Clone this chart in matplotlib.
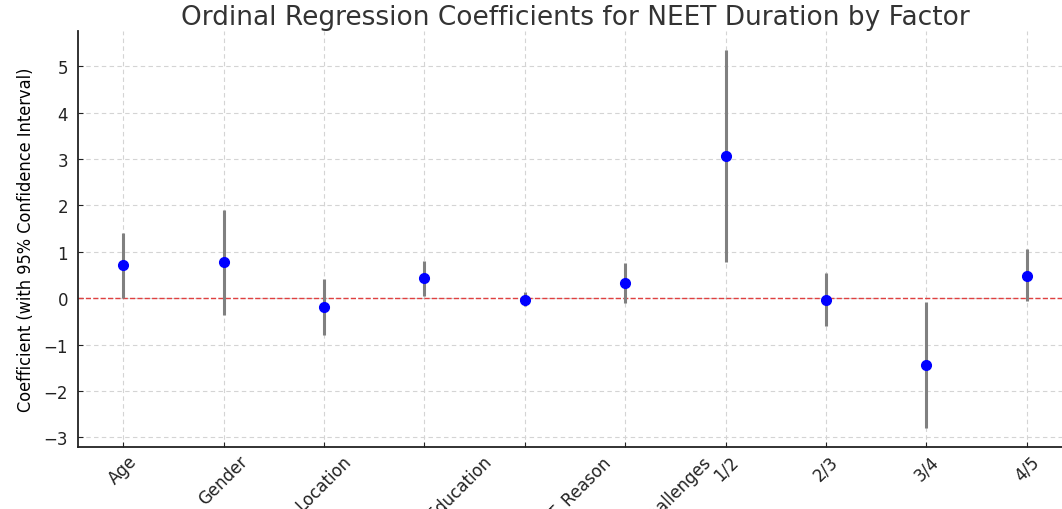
import matplotlib
matplotlib.use("Agg")
import matplotlib.pyplot as plt
import numpy as np

# values
factors = ["Age", "Gender", "Location", "Completed_Education", "Self_Reported_NEET_Reason",
           "Personal_Health_Challenges", "1/2", "2/3", "3/4", "4/5"]
coef = [0.71, 0.77, -0.19, 0.43, -0.03, 0.32, 3.07, -0.04, -1.45, 0.48]
ci_low = [0.01, -0.36, -0.79, 0.05, -0.16, -0.11, 0.77, -0.61, -2.80, -0.06]
ci_high = [1.41, 1.90, 0.41, 0.81, 0.13, 0.75, 5.35, 0.54, -0.09, 1.05]

coef = np.array(coef)
yerr = [coef - np.array(ci_low), np.array(ci_high) - coef]
x = np.arange(len(factors))

fig = plt.figure(figsize=(10.62, 5.10), dpi=100)
ax = fig.add_axes([0.0734, 0.1216, 0.936, 0.8154])

ax.errorbar(x, coef, yerr=yerr, fmt='o', color='blue', ecolor='gray',
            elinewidth=2.2, capsize=0, markersize=7, zorder=3)
ax.axhline(0, color='#e04040', linestyle='--', linewidth=1, zorder=2)

ax.set_xticks(x)
ax.set_xticklabels(factors, rotation=45, fontsize=12)
ax.tick_params(axis='both', direction='in', labelsize=12, colors='#222222')
ax.tick_params(axis='y', pad=7)
ax.grid(True, linestyle=(0, (4, 3)), color='#d4d4d4', linewidth=0.8)
ax.set_axisbelow(True)

ax.spines['top'].set_visible(False)
ax.spines['right'].set_visible(False)
for side in ['left', 'bottom']:
    ax.spines[side].set_color('#222222')
    ax.spines[side].set_linewidth(1.3)

ax.set_ylabel("Coefficient (with 95% Confidence Interval)", fontsize=13,
              fontstretch='condensed', labelpad=6)
ax.set_title("Ordinal Regression Coefficients for NEET Duration by Factor",
             fontsize=19, color='#333333', pad=5)

fig.savefig("out.png", dpi=100)
